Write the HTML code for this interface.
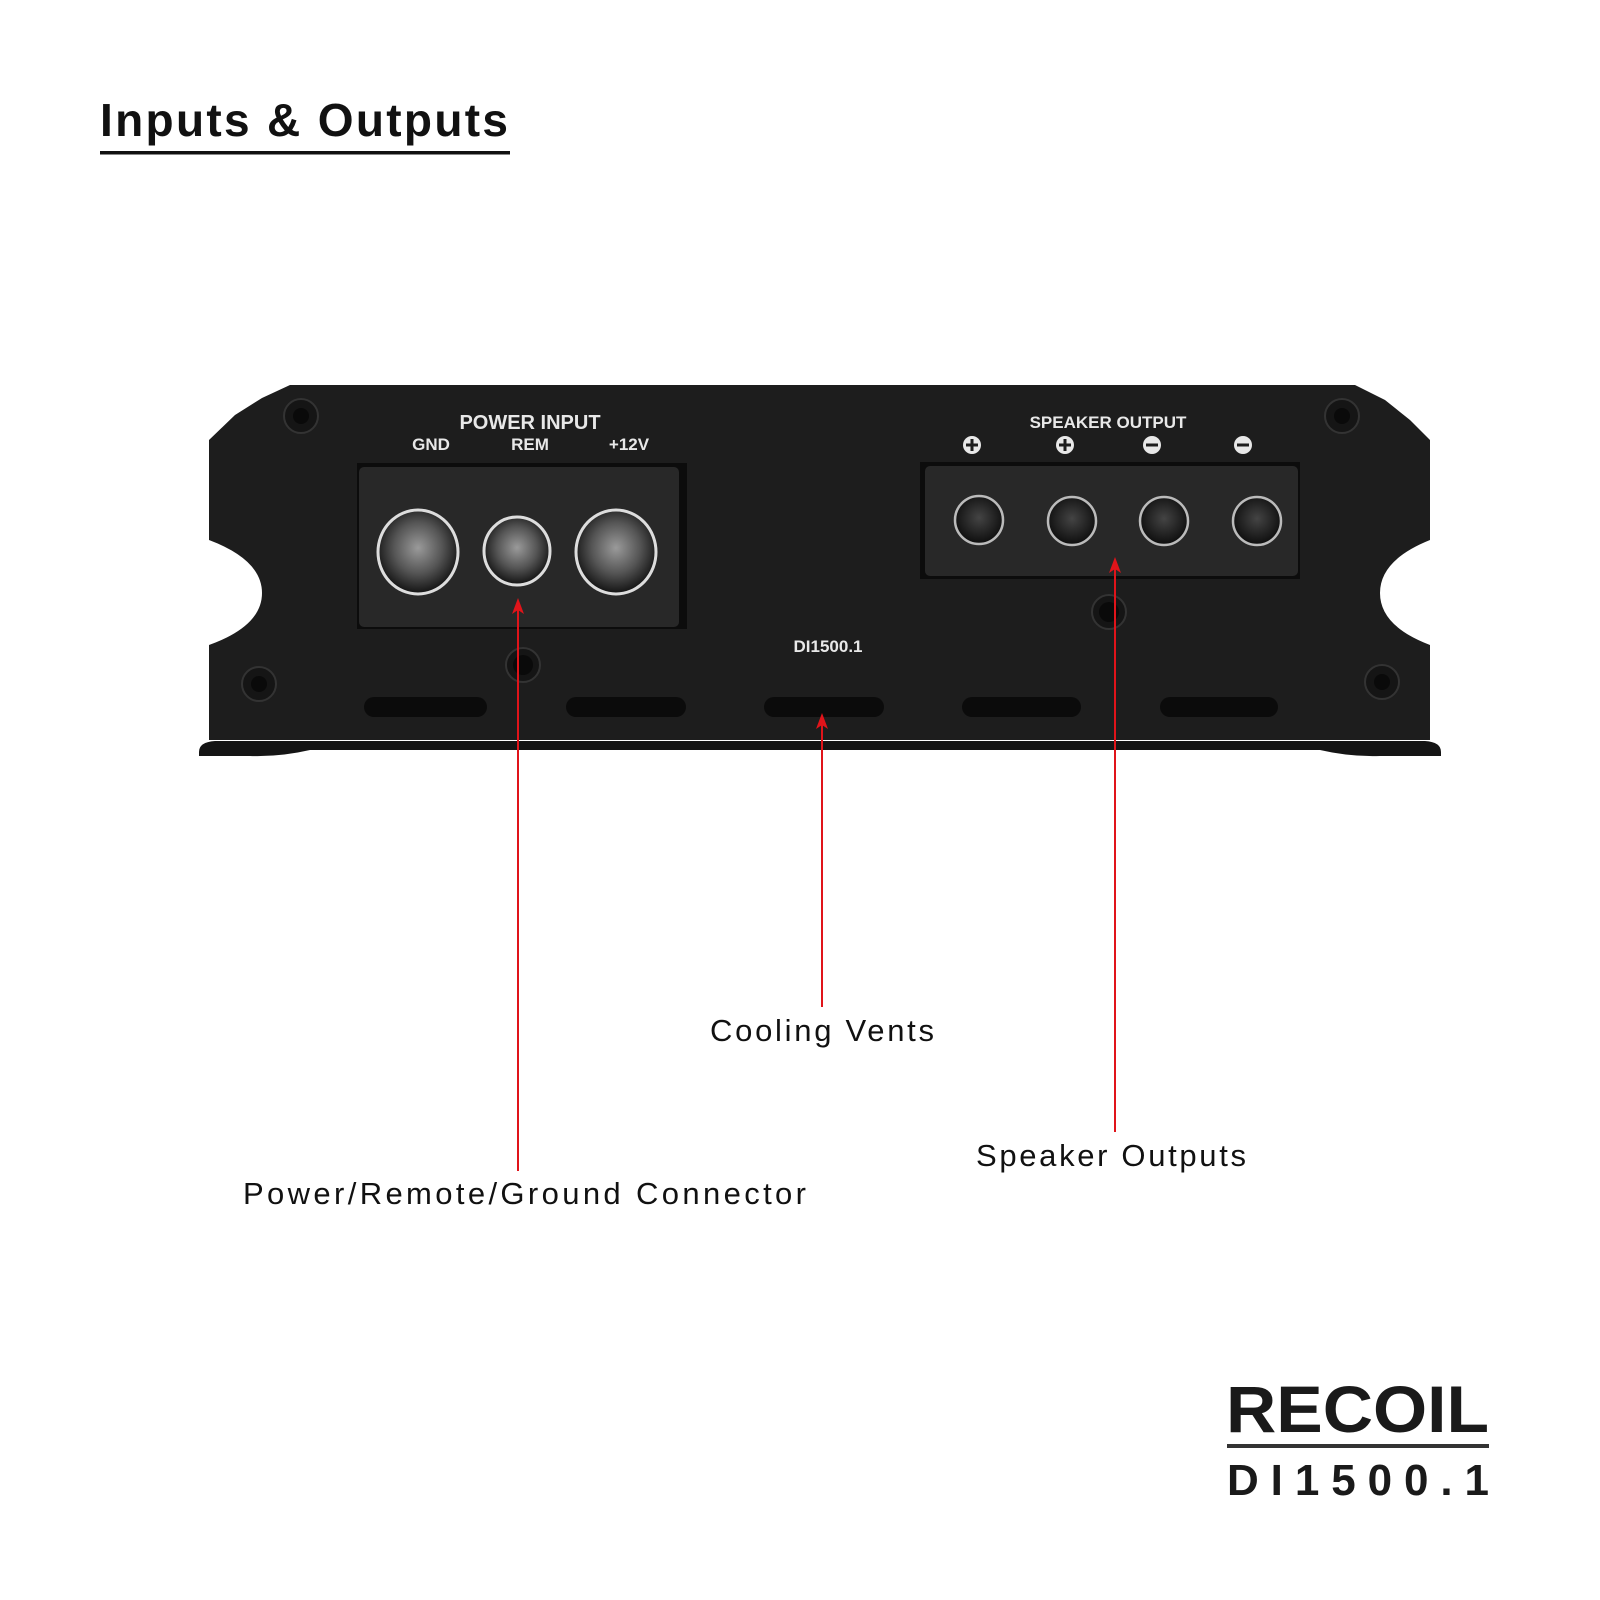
<!DOCTYPE html>
<html><head><meta charset="utf-8"><style>
html,body{margin:0;padding:0;background:#fff}
svg{display:block}
</style></head><body>
<svg width="1600" height="1600" viewBox="0 0 1600 1600" xmlns="http://www.w3.org/2000/svg" font-family="Liberation Sans, sans-serif">
<rect width="1600" height="1600" fill="#fff"/>
<text x="100" y="136" font-size="46" font-weight="bold" fill="#111" textLength="408" lengthAdjust="spacing">Inputs &amp; Outputs</text>
<rect x="100" y="151" width="410" height="3.5" fill="#111"/>

<!-- flange -->
<path d="M199 752 Q199 742 215 741 L1425 741 Q1441 742 1441 752 L1441 756 L1380 756 Q1350 757 1320 750 L310 750 Q280 757 250 756 L199 756 Z" fill="#151515"/>
<!-- body -->
<path d="M290 385 L1355 385 L1385 400 L1410 420 L1430 440 L1430 540 Q1380 560 1380 593 Q1380 626 1430 645 L1430 740 L209 740 L209 645 Q262 626 262 593 Q262 560 209 540 L209 440 L235 415 L262 398 Z" fill="#1d1d1d"/>
<!-- screws -->
<g fill="#151515" stroke="#333" stroke-width="2">
<circle cx="301" cy="416" r="17"/><circle cx="1342" cy="416" r="17"/>
<circle cx="259" cy="684" r="17"/><circle cx="1382" cy="682" r="17"/>
<circle cx="523" cy="665" r="17"/><circle cx="1109" cy="612" r="17"/>
</g>
<g fill="#0a0a0a"><circle cx="301" cy="416" r="8"/><circle cx="1342" cy="416" r="8"/><circle cx="259" cy="684" r="8"/><circle cx="1382" cy="682" r="8"/><circle cx="523" cy="665" r="10"/><circle cx="1109" cy="612" r="10"/></g>
<!-- text on amp -->
<g fill="#e8e8e8" font-weight="bold" text-anchor="middle">
<text x="530" y="429" font-size="20">POWER INPUT</text>
<text x="431" y="450" font-size="17">GND</text>
<text x="530" y="450" font-size="17">REM</text>
<text x="629" y="450" font-size="17">+12V</text>
<text x="1108" y="428" font-size="17">SPEAKER OUTPUT</text>
<text x="828" y="652" font-size="17">DI1500.1</text>
</g>
<g fill="#e8e8e8"><circle cx="972" cy="445" r="9"/><circle cx="1065" cy="445" r="9"/><circle cx="1152" cy="445" r="9"/><circle cx="1243" cy="445" r="9"/></g>
<g fill="#1d1d1d"><rect x="966" y="443.5" width="12" height="3"/><rect x="970.5" y="439" width="3" height="12"/><rect x="1059" y="443.5" width="12" height="3"/><rect x="1063.5" y="439" width="3" height="12"/><rect x="1146" y="443.5" width="12" height="3"/><rect x="1237" y="443.5" width="12" height="3"/></g>
<!-- blocks -->
<rect x="357" y="463" width="330" height="166" fill="#0c0c0c"/>
<rect x="359" y="467" width="320" height="160" rx="5" fill="#282828"/>
<rect x="920" y="462" width="380" height="117" fill="#0c0c0c"/>
<rect x="925" y="466" width="373" height="110" rx="5" fill="#282828"/>
<defs>
<radialGradient id="m" cx="50%" cy="45%" r="55%"><stop offset="0" stop-color="#9a9a9a"/><stop offset="0.55" stop-color="#555"/><stop offset="1" stop-color="#111"/></radialGradient>
<radialGradient id="s" cx="50%" cy="45%" r="55%"><stop offset="0" stop-color="#444"/><stop offset="1" stop-color="#0d0d0d"/></radialGradient>
</defs>
<g stroke="#ddd" stroke-width="3" fill="url(#m)">
<ellipse cx="418" cy="552" rx="40" ry="42"/><ellipse cx="517" cy="551" rx="33" ry="34"/><ellipse cx="616" cy="552" rx="40" ry="42"/>
</g>
<g stroke="#bbb" stroke-width="2.5" fill="url(#s)">
<circle cx="979" cy="520" r="24"/><circle cx="1072" cy="521" r="24"/><circle cx="1164" cy="521" r="24"/><circle cx="1257" cy="521" r="24"/>
</g>
<!-- vents -->
<g fill="#0b0b0b">
<rect x="364" y="697" width="123" height="20" rx="10"/><rect x="566" y="697" width="120" height="20" rx="10"/><rect x="764" y="697" width="120" height="20" rx="10"/><rect x="962" y="697" width="119" height="20" rx="10"/><rect x="1160" y="697" width="118" height="20" rx="10"/>
</g>
<!-- red arrows -->
<g stroke="#e0141a" stroke-width="2" fill="none"><line x1="518" y1="604" x2="518" y2="1171"/><line x1="822" y1="719" x2="822" y2="1007"/><line x1="1115" y1="563" x2="1115" y2="1132"/></g>
<g fill="#e0141a"><path d="M518 598 L512 614 L518 610 L524 614Z"/><path d="M822 713 L816 729 L822 725 L828 729Z"/><path d="M1115 557 L1109 573 L1115 569 L1121 573Z"/></g>
<!-- labels -->
<g fill="#111" font-size="31">
<text x="710" y="1041" textLength="224" lengthAdjust="spacing">Cooling Vents</text>
<text x="976" y="1166" textLength="270" lengthAdjust="spacing">Speaker Outputs</text>
<text x="243" y="1204" textLength="563" lengthAdjust="spacing">Power/Remote/Ground Connector</text>
</g>
<!-- logo -->
<text x="1226" y="1432" font-size="66" font-weight="bold" fill="#1a1a1a" textLength="263" lengthAdjust="spacingAndGlyphs">RECOIL</text>
<rect x="1227" y="1444" width="262" height="4" fill="#333"/>
<text x="1227" y="1495" font-size="44" font-weight="bold" fill="#1a1a1a" textLength="262" lengthAdjust="spacing">DI1500.1</text>
</svg>
</body></html>
